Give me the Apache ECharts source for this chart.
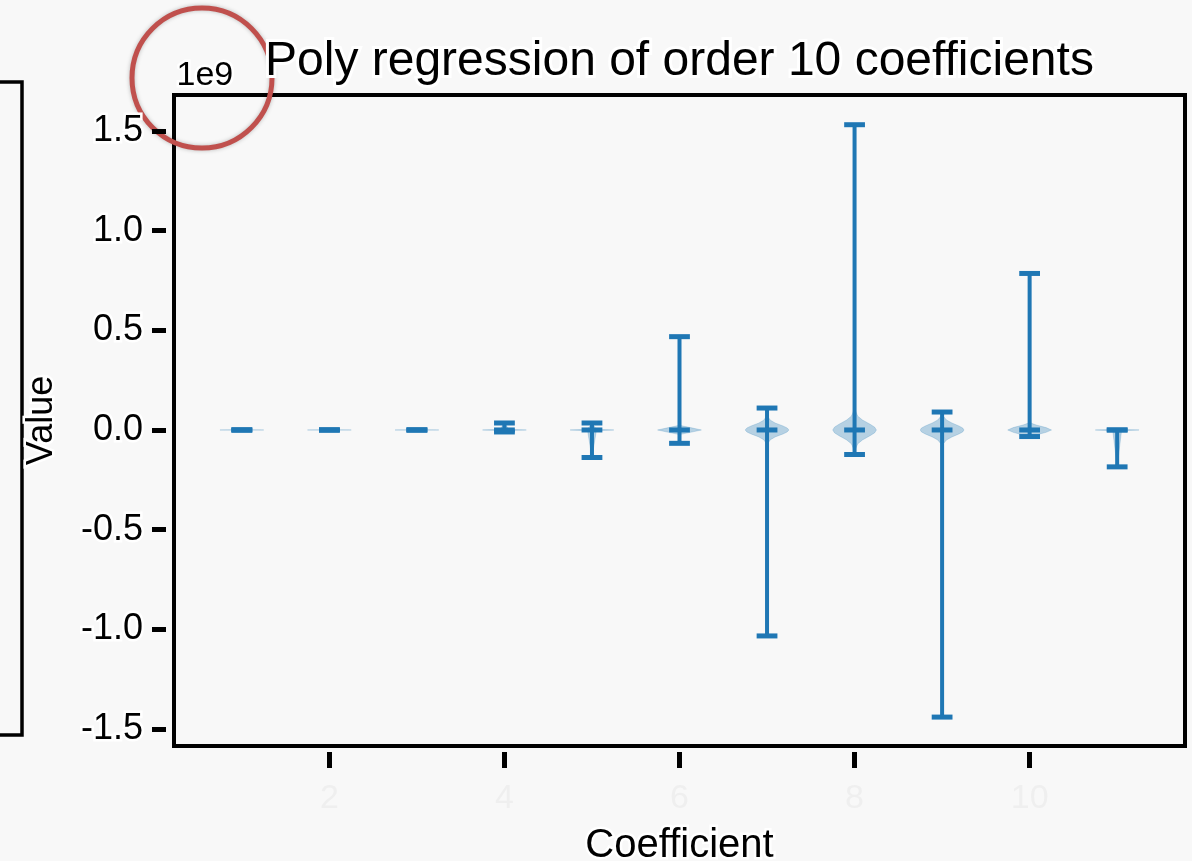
<!DOCTYPE html>
<html>
<head>
<meta charset="utf-8">
<script src="https://cdn.jsdelivr.net/npm/echarts@6/dist/echarts.min.js"></script>
<style>html,body{margin:0;padding:0;background:#f8f8f8;}#chart{width:1192px;height:861px;}</style>
</head>
<body>
<div id="chart"></div>
<script>
// Values are in units of 1e9 (axis offset text "1e9")
const coefficients = [1, 2, 3, 4, 5, 6, 7, 8, 9, 10, 11];
const maxVals    = [0.0, 0.0, 0.0, 0.035, 0.035, 0.468, 0.11, 1.531, 0.09, 0.785, 0.0];
const minVals    = [0.0, 0.0, 0.0, -0.01, -0.138, -0.067, -1.033, -0.123, -1.44, -0.033, -0.185];
const medianVals = [0.0, 0.0, 0.0, 0.0, 0.0, 0.0, 0.0, 0.0, 0.0, 0.0, 0.0];
// violin outlines: [value, relative half-width]
const violinProfiles = [
  [[-0.0005, 0], [0, 1], [0.0005, 0]],
  [[-0.0005, 0], [0, 1], [0.0005, 0]],
  [[-0.0005, 0], [0, 1], [0.0005, 0]],
  [[-0.01, 0], [-0.003, 0.2], [0, 1], [0.003, 0.2], [0.035, 0]],
  [[-0.138, 0], [-0.004, 0.2], [0, 1], [0.004, 0.2], [0.035, 0]],
  [[-0.067, 0], [-0.022, 0.05], [-0.012, 0.5], [0, 1], [0.012, 0.5], [0.022, 0.05], [0.468, 0]],
  [[-1.033, 0], [-0.2, 0.01], [-0.07, 0.03], [-0.05, 0.14], [-0.035, 0.37], [-0.02, 0.73], [-0.01, 0.92], [0, 1], [0.01, 0.92], [0.02, 0.73], [0.035, 0.37], [0.05, 0.14], [0.07, 0.03], [0.11, 0]],
  [[-0.123, 0], [-0.1, 0.03], [-0.07, 0.14], [-0.05, 0.36], [-0.03, 0.69], [-0.015, 0.91], [0, 1], [0.015, 0.91], [0.03, 0.69], [0.05, 0.36], [0.07, 0.14], [0.1, 0.03], [0.3, 0.01], [1.531, 0]],
  [[-1.44, 0], [-0.2, 0.01], [-0.07, 0.05], [-0.05, 0.2], [-0.035, 0.45], [-0.02, 0.77], [-0.01, 0.94], [0, 1], [0.01, 0.94], [0.02, 0.77], [0.035, 0.45], [0.05, 0.2], [0.07, 0.05], [0.09, 0]],
  [[-0.033, 0], [-0.025, 0.3], [-0.012, 0.75], [0, 1], [0.012, 0.75], [0.025, 0.3], [0.035, 0.05], [0.1, 0.01], [0.785, 0]],
  [[-0.185, 0], [-0.004, 0.2], [0, 1], [0.004, 0]]
];
const yTicks = [-1.5, -1.0, -0.5, 0.0, 0.5, 1.0, 1.5];
const xTicks = [2, 4, 6, 8, 10];

const blue = '#1f77b4';
const violinHalfWidth = 0.25;
const capHalfWidth = 0.125;

const chart = echarts.init(document.getElementById('chart'));
const errData = coefficients.map((c, i) => [c, minVals[i], maxVals[i], medianVals[i]]);
const violinData = coefficients.map((c, i) => [c, i]);

const option = {
  backgroundColor: '#f8f8f8',
  animation: false,
  title: {
    text: 'Poly regression of order 10 coefficients',
    left: 260, top: 33,
    textStyle: { fontFamily: 'Liberation Sans', fontSize: 48, fontWeight: 'normal', color: '#000',
      textBorderColor: '#fff', textBorderWidth: 6 }
  },
  grid: { left: 174, top: 95, width: 1011, height: 651, show: true, outerBoundsMode: 'none', containLabel: false,
    borderColor: '#000', borderWidth: 4, backgroundColor: '#f8f8f8' },
  xAxis: {
    type: 'value', min: 0.225, max: 11.775, offset: 6,
    name: 'Coefficient', nameLocation: 'middle', nameGap: 74,
    nameTextStyle: { fontFamily: 'Liberation Sans', fontSize: 40, color: '#000',
      textBorderColor: '#fff', textBorderWidth: 5 },
    axisLine: { show: false, onZero: false },
    splitLine: { show: false },
    axisTick: { show: true, customValues: xTicks, length: 16, lineStyle: { color: '#000', width: 5 } },
    axisLabel: { customValues: xTicks, fontFamily: 'Liberation Sans', fontSize: 34, color: '#efefef', margin: 30 }
  },
  yAxis: {
    type: 'value', min: -1.585, max: 1.68, offset: 8,
    name: 'Value', nameLocation: 'middle', nameGap: 106, nameRotate: 90,
    nameTextStyle: { fontFamily: 'Liberation Sans', fontSize: 36, color: '#000',
      textBorderColor: '#fff', textBorderWidth: 5 },
    axisLine: { show: false, onZero: false },
    splitLine: { show: false },
    axisTick: { show: true, customValues: yTicks, length: 14, lineStyle: { color: '#000', width: 5 } },
    axisLabel: { customValues: yTicks, formatter: v => v.toFixed(1), fontFamily: 'Liberation Sans',
      fontSize: 36, color: '#000', margin: 23, textBorderColor: '#fff', textBorderWidth: 5 }
  },
  series: [
    {
      type: 'custom', name: 'violins', data: violinData, z: 2,
      renderItem: function (params, api) {
        const c = api.value(0), idx = api.value(1);
        const prof = violinProfiles[idx];
        const pts = [];
        prof.forEach(p => pts.push(api.coord([c + p[1] * violinHalfWidth, p[0]])));
        for (let k = prof.length - 1; k >= 0; k--) pts.push(api.coord([c - prof[k][1] * violinHalfWidth, prof[k][0]]));
        return { type: 'polygon', shape: { points: pts },
          style: { fill: 'rgba(31,119,180,0.3)', stroke: 'rgba(31,119,180,0.25)', lineWidth: 0.8 } };
      }
    },
    {
      type: 'custom', name: 'ranges', data: errData, z: 3,
      renderItem: function (params, api) {
        const c = api.value(0), lo = api.value(1), hi = api.value(2), med = api.value(3);
        const pLo = api.coord([c, lo]), pHi = api.coord([c, hi]), pMed = api.coord([c, med]);
        const hw = api.size([capHalfWidth, 0])[0] * 0.95;
        const st = { stroke: blue, lineWidth: 4, lineCap: 'butt' };
        const cst = { stroke: blue, lineWidth: 5, lineCap: 'butt' };
        return { type: 'group', children: [
          { type: 'line', shape: { x1: pLo[0], y1: pLo[1], x2: pHi[0], y2: pHi[1] }, style: st },
          { type: 'line', shape: { x1: pHi[0] - hw, y1: pHi[1], x2: pHi[0] + hw, y2: pHi[1] }, style: cst },
          { type: 'line', shape: { x1: pLo[0] - hw, y1: pLo[1], x2: pLo[0] + hw, y2: pLo[1] }, style: cst },
          { type: 'line', shape: { x1: pMed[0] - hw, y1: pMed[1], x2: pMed[0] + hw, y2: pMed[1] }, style: cst }
        ] };
      }
    }
  ],
  graphic: [
    { type: 'polyline', shape: { points: [[0, 82], [22, 82], [22, 735], [0, 735]] },
      style: { stroke: '#000', lineWidth: 3.5, fill: null } },
    { type: 'text', left: 174, top: 56,
      style: { text: '1e9', font: '34px "Liberation Sans"', fill: '#000', stroke: '#fff', lineWidth: 5 } },
    { type: 'circle', shape: { cx: 202, cy: 78, r: 70 },
      style: { fill: null, stroke: '#c0504d', lineWidth: 5, shadowColor: 'rgba(0,0,0,0.25)', shadowBlur: 4 } }
  ]
};
chart.setOption(option);
</script>
</body>
</html>
